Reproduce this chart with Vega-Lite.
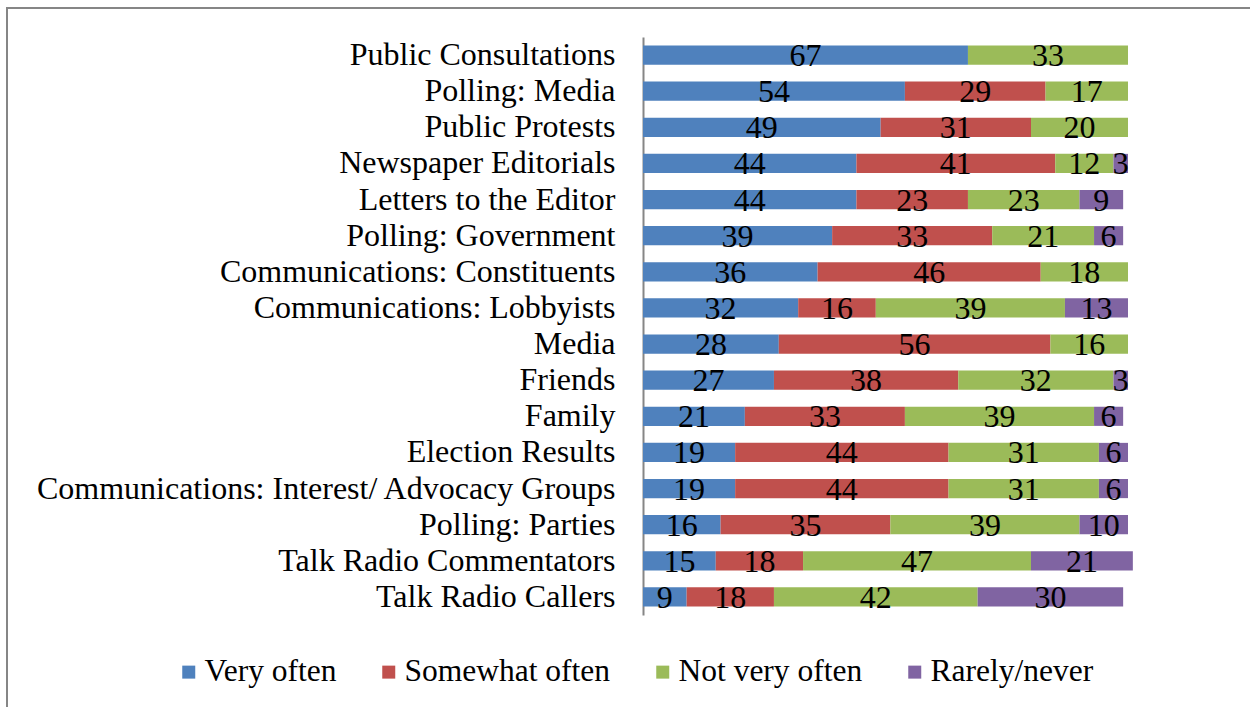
{
  "$schema": "https://vega.github.io/schema/vega-lite/v6.json",
  "autosize": {"type": "none"},
  "padding": {"left": 7, "top": 8, "right": 0, "bottom": 0},
  "width": 1243,
  "height": 699,
  "background": "white",
  "view": {"stroke": "#868686", "strokeWidth": 2, "strokeDash": [1243, 1942, 699]},
  "config": {
    "font": "Liberation Serif",
    "axis": {"labelFont": "Liberation Serif"},
    "legend": {"labelFont": "Liberation Serif"}
  },
  "data": {
    "values": [
      {"item": "Public Consultations", "series": "Very often", "k": 1, "v": 67},
      {"item": "Public Consultations", "series": "Not very often", "k": 3, "v": 33},
      {"item": "Polling: Media", "series": "Very often", "k": 1, "v": 54},
      {"item": "Polling: Media", "series": "Somewhat often", "k": 2, "v": 29},
      {"item": "Polling: Media", "series": "Not very often", "k": 3, "v": 17},
      {"item": "Public Protests", "series": "Very often", "k": 1, "v": 49},
      {"item": "Public Protests", "series": "Somewhat often", "k": 2, "v": 31},
      {"item": "Public Protests", "series": "Not very often", "k": 3, "v": 20},
      {"item": "Newspaper Editorials", "series": "Very often", "k": 1, "v": 44},
      {"item": "Newspaper Editorials", "series": "Somewhat often", "k": 2, "v": 41},
      {"item": "Newspaper Editorials", "series": "Not very often", "k": 3, "v": 12},
      {"item": "Newspaper Editorials", "series": "Rarely/never", "k": 4, "v": 3},
      {"item": "Letters to the Editor", "series": "Very often", "k": 1, "v": 44},
      {"item": "Letters to the Editor", "series": "Somewhat often", "k": 2, "v": 23},
      {"item": "Letters to the Editor", "series": "Not very often", "k": 3, "v": 23},
      {"item": "Letters to the Editor", "series": "Rarely/never", "k": 4, "v": 9},
      {"item": "Polling: Government\u00a0", "series": "Very often", "k": 1, "v": 39},
      {"item": "Polling: Government\u00a0", "series": "Somewhat often", "k": 2, "v": 33},
      {"item": "Polling: Government\u00a0", "series": "Not very often", "k": 3, "v": 21},
      {"item": "Polling: Government\u00a0", "series": "Rarely/never", "k": 4, "v": 6},
      {"item": "Communications: Constituents", "series": "Very often", "k": 1, "v": 36},
      {"item": "Communications: Constituents", "series": "Somewhat often", "k": 2, "v": 46},
      {"item": "Communications: Constituents", "series": "Not very often", "k": 3, "v": 18},
      {"item": "Communications: Lobbyists", "series": "Very often", "k": 1, "v": 32},
      {"item": "Communications: Lobbyists", "series": "Somewhat often", "k": 2, "v": 16},
      {"item": "Communications: Lobbyists", "series": "Not very often", "k": 3, "v": 39},
      {"item": "Communications: Lobbyists", "series": "Rarely/never", "k": 4, "v": 13},
      {"item": "Media", "series": "Very often", "k": 1, "v": 28},
      {"item": "Media", "series": "Somewhat often", "k": 2, "v": 56},
      {"item": "Media", "series": "Not very often", "k": 3, "v": 16},
      {"item": "Friends", "series": "Very often", "k": 1, "v": 27},
      {"item": "Friends", "series": "Somewhat often", "k": 2, "v": 38},
      {"item": "Friends", "series": "Not very often", "k": 3, "v": 32},
      {"item": "Friends", "series": "Rarely/never", "k": 4, "v": 3},
      {"item": "Family", "series": "Very often", "k": 1, "v": 21},
      {"item": "Family", "series": "Somewhat often", "k": 2, "v": 33},
      {"item": "Family", "series": "Not very often", "k": 3, "v": 39},
      {"item": "Family", "series": "Rarely/never", "k": 4, "v": 6},
      {"item": "Election Results", "series": "Very often", "k": 1, "v": 19},
      {"item": "Election Results", "series": "Somewhat often", "k": 2, "v": 44},
      {"item": "Election Results", "series": "Not very often", "k": 3, "v": 31},
      {"item": "Election Results", "series": "Rarely/never", "k": 4, "v": 6},
      {"item": "Communications: Interest/ Advocacy Groups", "series": "Very often", "k": 1, "v": 19},
      {"item": "Communications: Interest/ Advocacy Groups", "series": "Somewhat often", "k": 2, "v": 44},
      {"item": "Communications: Interest/ Advocacy Groups", "series": "Not very often", "k": 3, "v": 31},
      {"item": "Communications: Interest/ Advocacy Groups", "series": "Rarely/never", "k": 4, "v": 6},
      {"item": "Polling: Parties", "series": "Very often", "k": 1, "v": 16},
      {"item": "Polling: Parties", "series": "Somewhat often", "k": 2, "v": 35},
      {"item": "Polling: Parties", "series": "Not very often", "k": 3, "v": 39},
      {"item": "Polling: Parties", "series": "Rarely/never", "k": 4, "v": 10},
      {"item": "Talk Radio Commentators", "series": "Very often", "k": 1, "v": 15},
      {"item": "Talk Radio Commentators", "series": "Somewhat often", "k": 2, "v": 18},
      {"item": "Talk Radio Commentators", "series": "Not very often", "k": 3, "v": 47},
      {"item": "Talk Radio Commentators", "series": "Rarely/never", "k": 4, "v": 21},
      {"item": "Talk Radio Callers", "series": "Very often", "k": 1, "v": 9},
      {"item": "Talk Radio Callers", "series": "Somewhat often", "k": 2, "v": 18},
      {"item": "Talk Radio Callers", "series": "Not very often", "k": 3, "v": 42},
      {"item": "Talk Radio Callers", "series": "Rarely/never", "k": 4, "v": 30}
    ]
  },
  "encoding": {
    "y": {
      "field": "item",
      "type": "nominal",
      "sort": null,
      "scale": {"range": [29, 607], "paddingInner": 0.47, "paddingOuter": 0.235},
      "axis": {
        "title": null,
        "offset": -636,
        "domainColor": "#868686",
        "domainWidth": 2,
        "ticks": false,
        "tickSize": 0,
        "labelPadding": 28,
        "labelFontSize": 32,
        "labelColor": "black",
        "labelLimit": 0,
        "grid": false
      }
    },
    "x": {
      "field": "v",
      "type": "quantitative",
      "stack": "zero",
      "scale": {"domain": [0, 100], "range": [636, 1121], "nice": false, "zero": true},
      "axis": null
    },
    "order": {"field": "k", "type": "quantitative", "sort": "ascending"}
  },
  "layer": [
    {
      "mark": {"type": "bar", "strokeWidth": 0},
      "encoding": {
        "color": {
          "field": "series",
          "type": "nominal",
          "scale": {
            "domain": ["Very often", "Somewhat often", "Not very often", "Rarely/never"],
            "range": ["#4F81BD", "#C0504D", "#9BBB59", "#8064A2"]
          },
          "legend": {
            "title": null,
            "orient": "none",
            "direction": "horizontal",
            "legendX": 166,
            "legendY": 648,
            "padding": 0,
            "symbolType": "square",
            "symbolSize": 169,
            "symbolStrokeWidth": 0,
            "symbolOpacity": 1,
            "labelFontSize": 31.5,
            "labelColor": "black",
            "labelOffset": 0,
            "labelLimit": 0,
            "columnPadding": 36
          }
        }
      }
    },
    {
      "mark": {"type": "text", "fontSize": 32, "color": "black", "align": "center", "baseline": "middle", "dy": 1},
      "encoding": {
        "x": {"field": "v", "type": "quantitative", "stack": "zero", "bandPosition": 0.5},
        "detail": {"field": "series", "type": "nominal"},
        "text": {"field": "v", "type": "quantitative"}
      }
    }
  ]
}
